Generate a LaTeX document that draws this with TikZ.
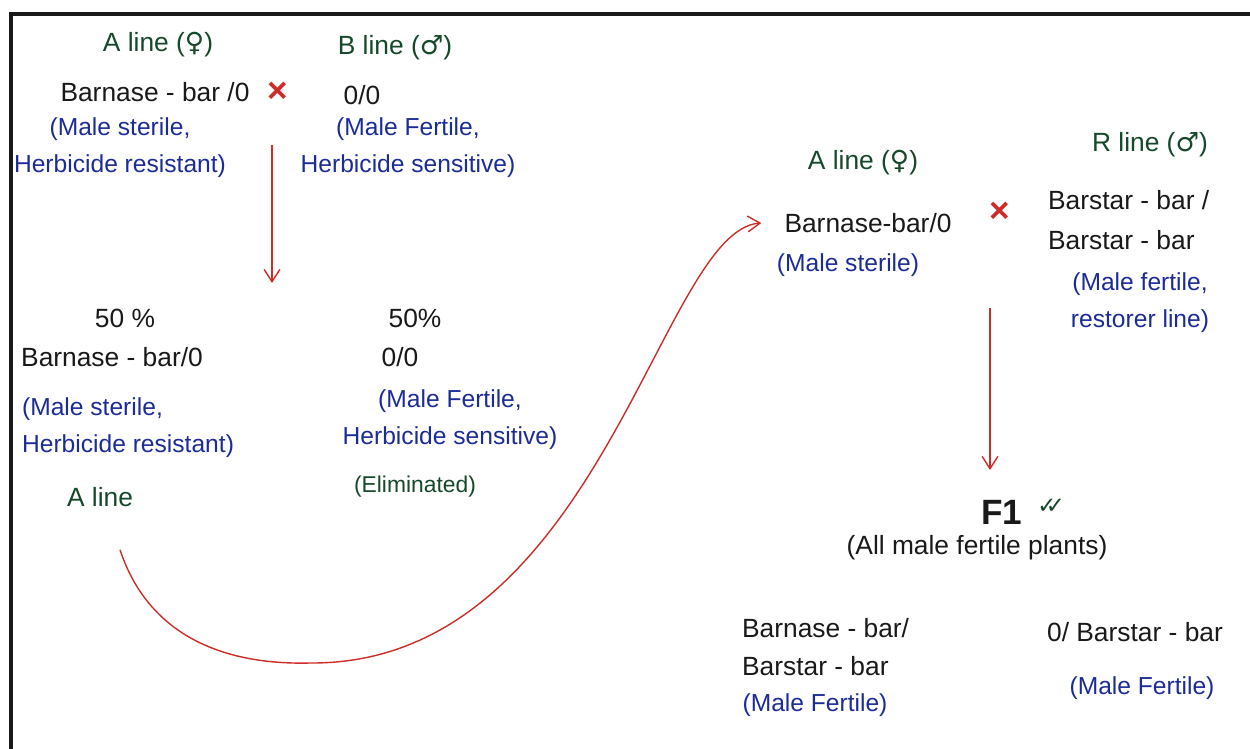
\documentclass[tikz,border=0pt]{standalone}
\usepackage{fontspec}
\setmainfont{Liberation Sans}
\newfontfamily\symfont{DejaVu Sans}
\usetikzlibrary{arrows.meta, positioning}
\definecolor{inkblack}{RGB}{25,25,25}
\definecolor{inkblue}{RGB}{28,44,150}
\definecolor{inkgreen}{RGB}{22,72,42}
\definecolor{inkred}{RGB}{205,45,40}
\newcommand{\femsym}{{\symfont ♀}}
\newcommand{\malsym}{{\symfont ♂}}
\tikzset{
  geno/.style={inner sep=1pt, text=inkblack, font=\fontsize{15}{22}\selectfont},
  pheno/.style={inner sep=1pt, text=inkblue, font=\fontsize{14}{21}\selectfont},
  linename/.style={inner sep=1pt, text=inkgreen, font=\fontsize{15}{21}\selectfont},
  crossmark/.style={inner sep=0pt, text=inkred, font=\fontsize{20}{20}\selectfont\bfseries},
  redarrow/.style={-{Straight Barb[length=7pt,width=9pt]}, line width=0.8pt, color=inkred},
}

\begin{document}
\begin{tikzpicture}[x=0.02cm, y=-0.02cm]
  \useasboundingbox (0,0) rectangle (1250,749);
  \draw[line width=1.8pt, inkblack] (11,749) -- (11,14) -- (1250,14);

  %% first cross: A line x B line
  \node[linename] (aFem) at (158,45) {A line (\femsym)};
  \node[linename] (bMal) at (395,48) {B line (\malsym)};
  \node[geno] (aGeno) at (155,92) {Barnase - bar /0};
  \node[crossmark] (crossAB) at (278,92) {×};
  \node[geno] (bGeno) at (362,95) {0/0};
  \node[pheno, align=center] (aPheno) at (120,148) {(Male sterile,\\Herbicide resistant)};
  \node[pheno, align=center] (bPheno) at (408,148) {(Male Fertile,\\Herbicide sensitive)};

  \coordinate (dropTop) at (272,145);
  \coordinate (dropEnd) at (272,283);
  \draw[redarrow] (dropTop) -- (dropEnd);

  %% progeny
  \node[geno] (pctA) at (125,318) {50 \%};
  \node[geno] (pctB) at (415,318) {50\%};
  \node[geno] (selGeno) at (112,357) {Barnase - bar/0};
  \node[geno] (elimGeno) at (400,357) {0/0};
  \node[pheno, align=left, anchor=west] (selPheno) at (20,428) {(Male sterile,\\Herbicide resistant)};
  \node[pheno, align=center] (elimPheno) at (450,420) {(Male Fertile,\\Herbicide sensitive)};
  \node[linename] (selA) at (100,497) {A line};
  \node[linename, font=\fontsize{13}{16}\selectfont] (elim) at (415,487) {(Eliminated)};

  %% second cross: A line x R line
  \node[linename] (aFem2) at (863,163) {A line (\femsym)};
  \node[linename] (rMal) at (1150,145) {R line (\malsym)};
  \node[geno] (aGeno2) at (868,223) {Barnase-bar/0};
  \node[crossmark] (crossAR) at (1000,212) {×};
  \node[geno, align=left, anchor=west, font=\fontsize{15}{23}\selectfont] (rGeno) at (1046,220)
    {Barstar - bar /\\Barstar - bar};
  \node[pheno] (aPheno2) at (848,265) {(Male sterile)};
  \node[pheno, align=center] (rPheno) at (1140,303) {(Male fertile,\\restorer line)};

  \draw[redarrow] ([shift={(20,41)}]selA.south)
    .. controls (150,640) and (230,665) .. (310,663)
    .. controls (600,665) and (660,230) .. ([xshift=-12]aGeno2.west);

  \coordinate (crossTop) at (990,308);
  \coordinate (crossEnd) at (990,470);
  \draw[redarrow] (crossTop) -- (crossEnd);

  %% F1
  \node[geno, font=\fontsize{20}{20}\selectfont\bfseries] (fOne) at (1002,512) {F1};
  \node[right=7pt of fOne, yshift=3pt, inner sep=0pt, text=inkgreen,
        font=\symfont\fontsize{13}{13}\selectfont] (fTick) {✓\kern-6pt✓};
  \node[geno] (fAll) at (977,548) {(All male fertile plants)};
  \node[geno, align=left, anchor=west] (fGenoA) at (740,647) {Barnase - bar/\\Barstar - bar};
  \node[pheno] (fPhenoA) at (815,705) {(Male Fertile)};
  \node[geno, anchor=west] (fGenoB) at (1045,632) {0/ Barstar - bar};
  \node[pheno] (fPhenoB) at (1142,688) {(Male Fertile)};

\end{tikzpicture}
\end{document}
